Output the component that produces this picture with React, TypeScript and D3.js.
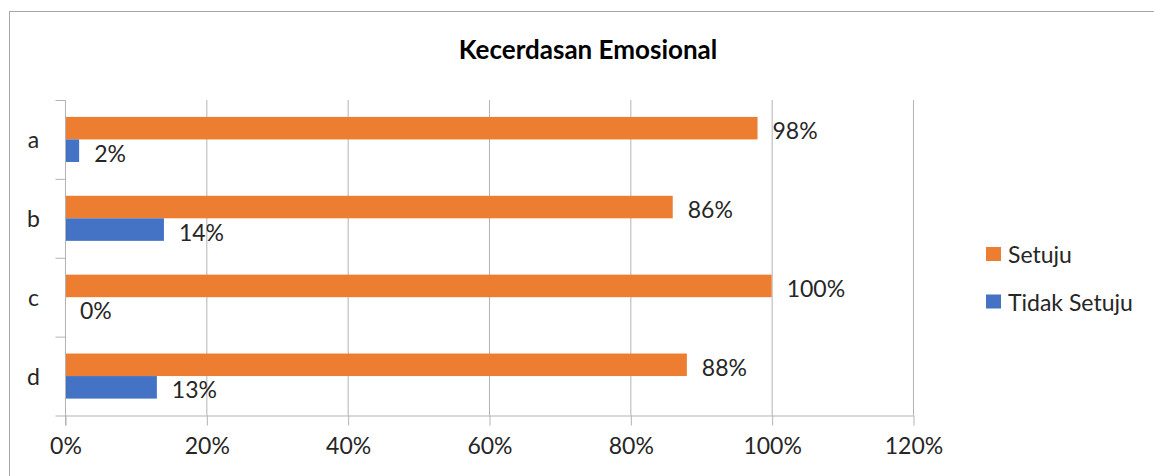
import { useEffect, useRef } from 'react'
import * as d3 from 'd3'

// ── data ─────────────────────────────────────────────────────────────────────
const categories = ['a', 'b', 'c', 'd']
const seriesNames = ['Setuju', 'Tidak Setuju']
const setuju = [98, 86, 100, 88]
const tidakSetuju = [2, 14, 0, 13]
const xTicks = [0, 20, 40, 60, 80, 100, 120]
const title = 'Kecerdasan Emosional'

// ── constants ────────────────────────────────────────────────────────────────
const W = 1154
const H = 476
const PLOT = { left: 65, right: 913, top: 100, bottom: 415.5 }
const CORANGE = '#ED7D31'
const CBLUE = '#4472C4'
const CGRID = '#b3b3b3'
const CTEXT = '#262626'
const FONT = 'Lato, "Open Sans", "DejaVu Sans", sans-serif'
const FS = 23

export default function App() {
  const ref = useRef<SVGSVGElement>(null)

  useEffect(() => {
    if (!ref.current) return
    const svg = d3.select(ref.current)
    svg.selectAll('*').remove()

    const x = d3.scaleLinear().domain([0, 120]).range([PLOT.left, PLOT.right])
    const y = d3.scaleBand<string>().domain(categories).range([PLOT.top, PLOT.bottom]).paddingInner(0)
    const yi = d3.scaleBand<string>().domain(seriesNames).range([0, y.bandwidth()]).paddingInner(0).paddingOuter(0.75)

    // chart border
    svg.append('rect')
      .attr('x', 9.5).attr('y', 11.5).attr('width', W + 20).attr('height', H + 20)
      .attr('fill', '#fff').attr('stroke', '#a6a6a6').attr('stroke-width', 1)

    // title
    svg.append('text')
      .attr('x', 588).attr('y', 59)
      .attr('text-anchor', 'middle')
      .attr('font-family', FONT).attr('font-size', 26).attr('font-weight', 'bold')
      .attr('fill', '#000')
      .text(title)

    // vertical grid
    svg.append('g')
      .selectAll('line')
      .data(xTicks.slice(1))
      .join('line')
        .attr('x1', d => x(d) + 0.5).attr('x2', d => x(d) + 0.5)
        .attr('y1', PLOT.top).attr('y2', PLOT.bottom)
        .attr('stroke', CGRID).attr('stroke-width', 1)

    // bars
    const rows = categories.map((c, i) => ({ c, vals: [setuju[i], tidakSetuju[i]] }))
    const cols = [CORANGE, CBLUE]
    rows.forEach(r => {
      r.vals.forEach((v, j) => {
        const by = (y(r.c) ?? 0) + (yi(seriesNames[j]) ?? 0)
        svg.append('rect')
          .attr('x', x(0)).attr('y', by)
          .attr('width', x(v) - x(0)).attr('height', yi.bandwidth())
          .attr('fill', cols[j])
        svg.append('text')
          .attr('x', x(v) + 15).attr('y', by + yi.bandwidth() / 2 + 2)
          .attr('dominant-baseline', 'central')
          .attr('font-family', FONT).attr('font-size', FS).attr('fill', CTEXT)
          .text(`${v}%`)
      })
    })

    // x axis
    const xa = svg.append('g')
      .attr('transform', `translate(0.5,${PLOT.bottom})`)
      .call(d3.axisBottom(x).tickValues(xTicks).tickFormat(d => `${d}%`).tickSize(10).tickSizeOuter(0).tickPadding(12))
    xa.select('.domain').attr('stroke', CGRID)
    xa.selectAll('line').attr('stroke', CGRID)
    xa.selectAll('text').attr('font-family', FONT).attr('font-size', FS).attr('fill', CTEXT)

    // y axis
    const ya = svg.append('g')
      .attr('transform', `translate(${PLOT.left + 0.5},0)`)
    ya.append('line')
      .attr('y1', PLOT.top).attr('y2', PLOT.bottom + 10)
      .attr('stroke', CGRID)
    ya.selectAll('line.tk')
      .data(d3.range(categories.length + 1))
      .join('line')
        .attr('class', 'tk')
        .attr('x1', -10).attr('x2', 0)
        .attr('y1', i => PLOT.top + i * y.step() + 0.5).attr('y2', i => PLOT.top + i * y.step() + 0.5)
        .attr('stroke', CGRID)
    ya.selectAll('text')
      .data(categories)
      .join('text')
        .attr('x', -32).attr('y', d => (y(d) ?? 0) + y.bandwidth() / 2)
        .attr('text-anchor', 'middle').attr('dominant-baseline', 'central')
        .attr('font-family', FONT).attr('font-size', FS).attr('fill', CTEXT)
        .text(d => d)

    // legend
    const lg = svg.append('g').attr('transform', 'translate(986,0)')
    seriesNames.forEach((s, j) => {
      const cy = 254 + j * 47.5
      lg.append('rect')
        .attr('x', 0).attr('y', cy - 7).attr('width', 15).attr('height', 14)
        .attr('fill', cols[j])
      lg.append('text')
        .attr('x', 22).attr('y', cy)
        .attr('dominant-baseline', 'central')
        .attr('font-family', FONT).attr('font-size', FS).attr('fill', CTEXT)
        .text(s)
    })
  }, [])

  return (
    <svg
      ref={ref}
      width={W}
      height={H}
      viewBox={`0 0 ${W} ${H}`}
      style={{ position: 'absolute', left: 0, top: 0, display: 'block', background: '#fff' }}
    />
  )
}
